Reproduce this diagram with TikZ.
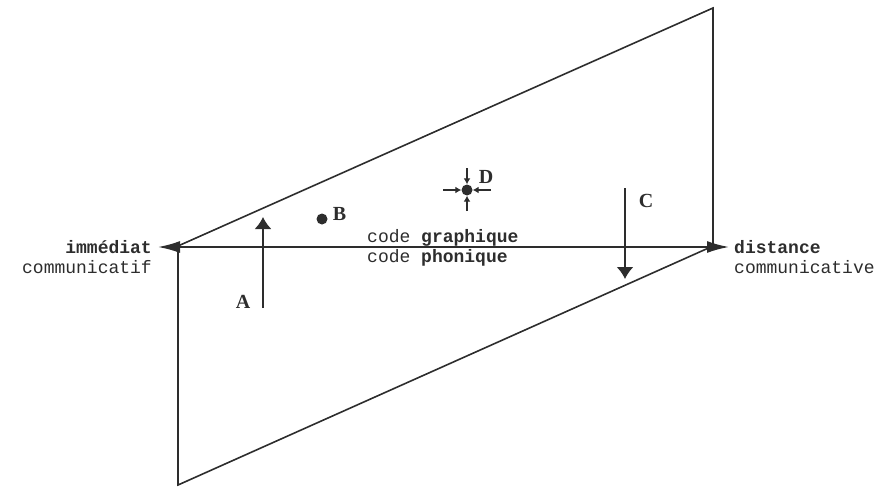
\documentclass[tikz,border=0pt]{standalone}
\usepackage{fontspec}
\setmainfont{Liberation Serif}
\setmonofont{Liberation Mono}
\usetikzlibrary{arrows.meta,positioning}
\definecolor{ink}{RGB}{45,45,45}
\tikzset{
  plane/.style={draw=ink,line width=1.6pt,line join=miter},
  axis/.style={draw=ink,line width=1.8pt,
    {Latex[length=22pt,width=12pt]}-{Latex[length=22pt,width=12pt]}},
  move/.style={draw=ink,line width=1.7pt,-{Latex[length=12pt,width=17pt]}},
  push/.style={draw=ink,line width=1.5pt,-{Latex[length=6pt,width=7pt]}},
  pole/.style={font=\ttfamily\fontsize{18}{20}\selectfont,inner sep=0pt,text=ink},
  tag/.style={font=\bfseries\fontsize{20}{20}\selectfont,inner sep=0pt,text=ink},
  spot/.style={fill=ink,circle,inner sep=0pt,minimum size=11pt},
}
\begin{document}
\begin{tikzpicture}[x=1pt,y=-1pt]
\useasboundingbox (0,0) rectangle (896,487);
% the plane
\coordinate (tl) at (178,246);
\coordinate (tr) at (713,8);
\coordinate (br) at (713,246);
\coordinate (bl) at (178,485);
\draw[plane] (tl) -- (tr) -- (br) -- (bl) -- cycle;
% poles
\node[pole,anchor=east,align=right] (imm) at (152,257)
  {\textbf{immédiat}\\communicatif};
\node[pole,anchor=west,align=left] (dist) at (734,257)
  {\textbf{distance}\\communicative};
\coordinate (axl) at (158,247);
\coordinate (axr) at (729,247);
\draw[axis] (axl) -- (axr);
\node[pole,anchor=west,align=left] (code) at (367,248)
  {code \textbf{graphique}\\code \textbf{phonique}};
% A
\coordinate (a0) at (263,308);
\coordinate (a1) at (263,217);
\draw[move] (a0) -- (a1);
\node[tag] (la) at (243,302) {A};
% B
\node[spot] (b) at (322,219) {};
\node[tag,right=5pt of b,yshift=5pt] (lb) {B};
% C
\coordinate (c0) at (625,188);
\coordinate (c1) at (625,279);
\draw[move] (c0) -- (c1);
\node[tag] (lc) at (646,201) {C};
% D
\node[spot] (d) at (467,190) {};
\node[tag] (ld) at (486,177) {D};
\coordinate (dn) at (467,168);
\coordinate (dw) at (443,190);
\coordinate (de) at (491,190);
\coordinate (ds) at (467,211);
\draw[push] (dn) -- (d.north);
\draw[push] (dw) -- (d.west);
\draw[push] (de) -- (d.east);
\draw[push] (ds) -- (d.south);
\end{tikzpicture}
\end{document}
